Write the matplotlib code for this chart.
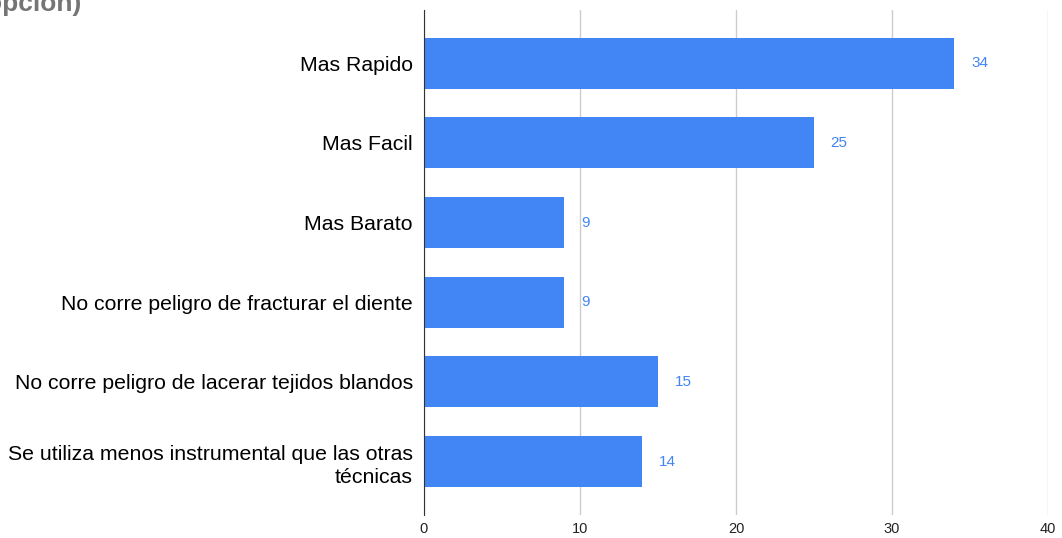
import matplotlib.pyplot as plt
import numpy as np

# motivos y numero de respuestas
categorias = [
    "Mas Rapido",
    "Mas Facil",
    "Mas Barato",
    "No corre peligro de fracturar el diente",
    "No corre peligro de lacerar tejidos blandos",
    "Se utiliza menos instrumental que las otras\ntécnicas",
]
respuestas = [34, 25, 9, 9, 15, 14]
ticks_x = [0, 10, 20, 30, 40]

plt.rcParams['font.family'] = ['Liberation Sans', 'DejaVu Sans']

fig = plt.figure(figsize=(10.62, 5.38), dpi=100)
ax = fig.add_axes([0.3992, 0.0428, 0.5876, 0.9387])

y = np.arange(len(categorias))
ax.barh(y, respuestas, height=0.64, color='#4285F4', zorder=3)

for yi, v in zip(y, respuestas):
    ax.annotate(str(v), (v, yi), xytext=(12, 0), textcoords='offset points',
                va='center', ha='left', fontsize=11, color='#4285F4')

ax.set_xlim(0, 40)
ax.set_ylim(5.67, -0.67)
ax.set_xticks(ticks_x)
ax.set_xticklabels([str(t) for t in ticks_x], fontsize=10.5, color='#222222')
ax.set_yticks(y)
ax.set_yticklabels(categorias, fontsize=15.3, color='#000000', linespacing=1.3)
ax.tick_params(axis='both', length=0)
ax.tick_params(axis='y', pad=8)
ax.tick_params(axis='x', pad=5)

ax.grid(axis='x', color='#cccccc', linewidth=1, zorder=0)
for s in ['top', 'right', 'bottom']:
    ax.spines[s].set_visible(False)
ax.spines['left'].set_color('#333333')
ax.spines['left'].set_zorder(4)

# titulo cortado arriba a la izquierda
fig.text(81 / 1062, 1 - 11 / 538, "opcion)", ha='right', va='baseline',
         fontsize=19, fontweight='bold', color='#757575')

fig.savefig('out.png', dpi=100)
